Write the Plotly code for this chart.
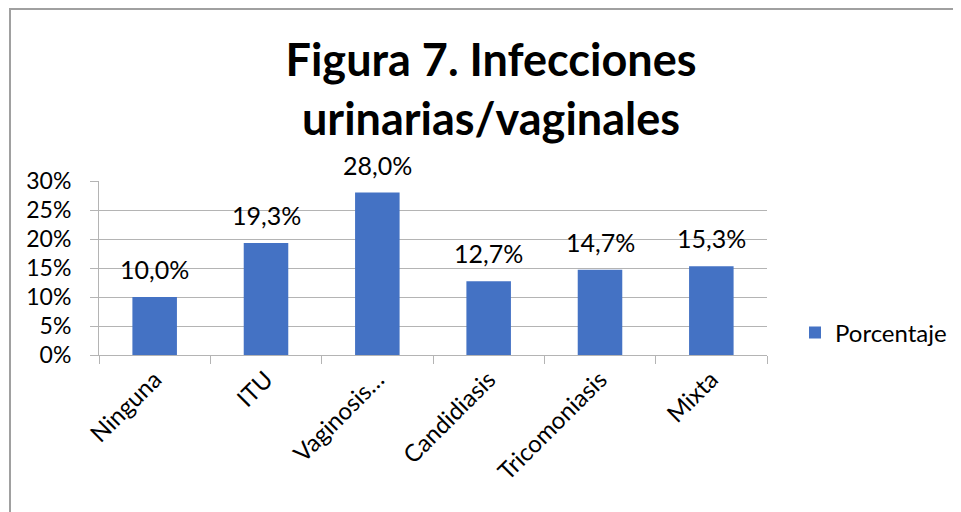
import plotly.graph_objects as go

categories = ["Ninguna", "ITU", "Vaginosis…", "Candidiasis", "Tricomoniasis", "Mixta"]
values_pct = [10.0, 19.3, 28.0, 12.7, 14.7, 15.3]
series_name = "Porcentaje"
y_ticks = [0, 0.05, 0.10, 0.15, 0.20, 0.25, 0.30]
y_tick_labels = ["0%", "5%", "10%", "15%", "20%", "25%", "30%"]
title_lines = ["Figura 7. Infecciones", "urinarias/vaginales"]

FONT = "Lato, 'Open Sans', sans-serif"
GRID = "#b4b4b4"

# page body adds an 8px offset; all layout pixel positions are target - 8
OFF = 8
W, H = 961, 512
L = 99 - OFF
R = W - (767 - OFF)
T = 181 - OFF
B = H - (355 - OFF)
pw = W - L - R
ph = H - T - B

fig = go.Figure()
fig.add_trace(go.Bar(
    x=categories,
    y=[v / 100 for v in values_pct],
    name=series_name,
    marker=dict(color="#4472C4", line=dict(width=0)),
    width=0.4,
    showlegend=True,
))

for c, v in zip(categories, values_pct):
    fig.add_annotation(
        x=c, y=v / 100, xref="x", yref="y",
        text=f"{v:.1f}%".replace(".", ","),
        showarrow=False, yanchor="bottom", xanchor="center",
        yshift=11,
        font=dict(family=FONT, size=25, color="#000000"),
    )

fig.update_layout(
    width=W, height=H,
    margin=dict(l=L, r=R, t=T, b=B, autoexpand=False),
    paper_bgcolor="white",
    plot_bgcolor="white",
    font=dict(family=FONT, color="#000000", size=23),
    title=dict(
        text="<b>" + "<br>".join(title_lines) + "</b>",
        x=(491 - OFF) / W, xanchor="center", xref="container",
        y=1 - 68 / H, yanchor="middle", yref="container",
        font=dict(family=FONT, size=45, color="#000000"),
    ),
    showlegend=True,
    legend=dict(
        x=(795 - OFF - L) / pw, xanchor="left",
        y=(355 - 333) / ph, yanchor="middle",
        font=dict(family=FONT, size=24, color="#000000"),
        bgcolor="rgba(0,0,0,0)",
        itemsizing="constant",
    ),
    xaxis=dict(
        type="category",
        tickangle=-45,
        tickfont=dict(family=FONT, size=24, color="#000000"),
        showline=True, linecolor=GRID, linewidth=1,
        ticks="outside", tickson="boundaries", ticklen=8, tickcolor=GRID,
        showgrid=False,
        range=[-0.5, len(categories) - 0.5],
    ),
    yaxis=dict(
        range=[0, 0.30],
        tickvals=y_ticks, ticktext=y_tick_labels,
        tickfont=dict(family=FONT, size=23, color="#000000"),
        showgrid=True, gridcolor=GRID, gridwidth=1,
        showline=True, linecolor=GRID, linewidth=1,
        ticks="outside", ticklen=8, tickcolor=GRID,
        ticklabelstandoff=14,
        zeroline=False,
    ),
    shapes=[dict(
        type="rect", xref="paper", yref="paper",
        x0=(10 - OFF - L) / pw, x1=(W + 20 - L) / pw,
        y0=-(B + 20) / ph, y1=(H - B - (9 - OFF)) / ph,
        line=dict(color="#a0a0a0", width=2), fillcolor="rgba(0,0,0,0)",
        layer="below",
    )],
)

fig.write_html("out.html")
